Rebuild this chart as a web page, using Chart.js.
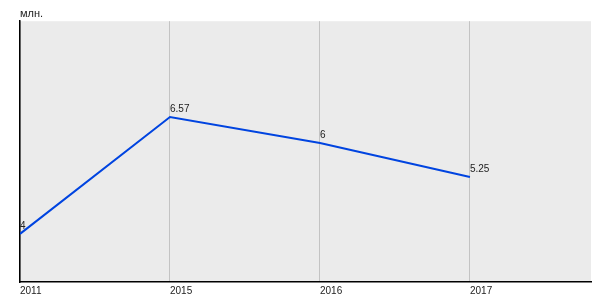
<!DOCTYPE html>
<html>
<head>
<meta charset="utf-8">
<script src="https://cdn.jsdelivr.net/npm/chart.js@4"></script>
<style>
  html, body { margin: 0; padding: 0; background: #fff; }
  #wrap { width: 600px; height: 300px; }
</style>
</head>
<body>
<div id="wrap"><canvas id="myChart"></canvas></div>
<script>
const years = ["2011", "2015", "2016", "2017"];
const values = [4, 6.57, 6, 5.25];
const valueLabels = ["4", "6.57", "6", "5.25"];
const unitLabel = "млн.";

const plotBackground = {
    id: "plotBackground",
    beforeDraw(chart) {
        const a = chart.chartArea;
        const ctx = chart.ctx;
        ctx.save();
        ctx.fillStyle = "#ebebeb";
        ctx.fillRect(a.left, a.top, a.right - a.left, a.bottom - a.top);
        ctx.restore();
    }
};

const pointLabels = {
    id: "pointLabels",
    afterDatasetsDraw(chart) {
        const ctx = chart.ctx;
        const meta = chart.getDatasetMeta(0);
        ctx.save();
        ctx.font = "10px 'Liberation Sans', Arial, sans-serif";
        ctx.fillStyle = "#222";
        ctx.textAlign = "left";
        ctx.textBaseline = "bottom";
        meta.data.forEach(function (pt, i) {
            ctx.fillText(valueLabels[i], pt.x, pt.y - 3);
        });
        ctx.restore();
    }
};

function buildChart() {
    const ctx = document.getElementById("myChart").getContext("2d");
    new Chart(ctx, {
        type: "line",
        data: {
            datasets: [{
                data: values.map((v, i) => ({ x: i, y: v })),
                borderColor: "#0044e0",
                borderWidth: 2,
                pointRadius: 0,
                tension: 0,
                fill: false
            }]
        },
        options: {
            responsive: true,
            maintainAspectRatio: false,
            animation: false,
            layout: { padding: { left: 20, right: 9, top: 0, bottom: 0 } },
            plugins: {
                legend: { display: false },
                tooltip: { enabled: false },
                title: {
                    display: true,
                    text: unitLabel,
                    align: "start",
                    color: "#222",
                    font: { family: "'Liberation Sans', Arial, sans-serif", size: 11, weight: "normal" },
                    padding: { top: 7, bottom: 1 }
                }
            },
            scales: {
                x: {
                    type: "linear",
                    min: 0,
                    max: 3.807,
                    afterBuildTicks(axis) {
                        axis.ticks = years.map((y, i) => ({ value: i }));
                    },
                    ticks: {
                        align: "start",
                        padding: 3,
                        color: "#222",
                        font: { family: "'Liberation Sans', Arial, sans-serif", size: 10 },
                        callback: function (v) { return years[v]; }
                    },
                    grid: { color: "#c3c3c3", lineWidth: 1, drawTicks: false },
                    border: { display: true, color: "#000", width: 1.5 }
                },
                y: {
                    min: 2.94,
                    max: 8.68,
                    ticks: { display: false },
                    grid: { display: false, drawTicks: false },
                    border: { display: true, color: "#000", width: 1.5 }
                }
            }
        },
        plugins: [plotBackground, pointLabels]
    });
}

document.addEventListener("DOMContentLoaded", function () {
    buildChart();
});
</script>
</body>
</html>
